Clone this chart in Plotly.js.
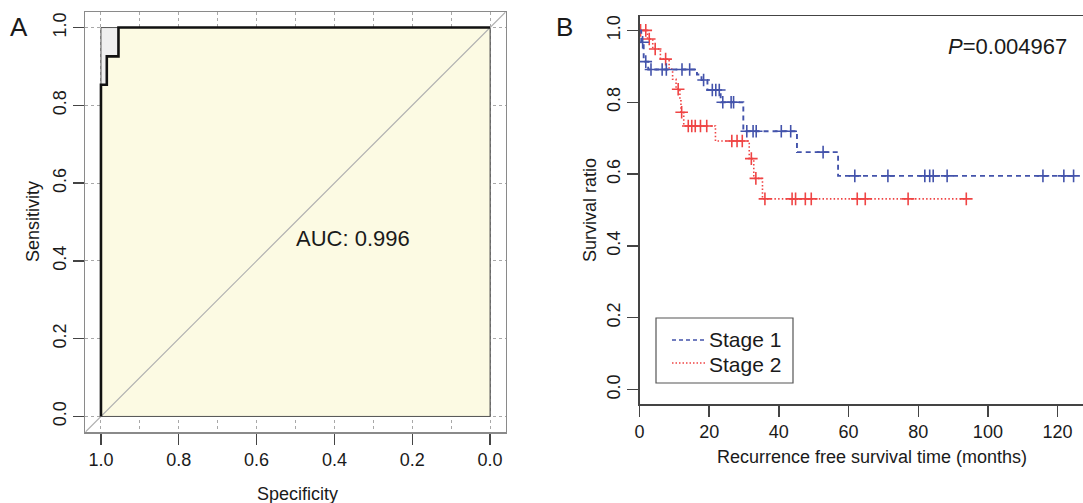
<!DOCTYPE html>
<html>
<head>
<meta charset="utf-8">
<script src="https://cdn.plot.ly/plotly-3.0.1.min.js"></script>
<style>html,body{margin:0;padding:0;background:#fff;}#chart{width:1083px;height:503px;}</style>
</head>
<body>
<div id="chart"></div>
<script>
// ---------- Panel A: ROC data ----------
const rocSpecificity = [1.0, 1.0, 0.985, 0.985, 0.955, 0.955, 0.0];
const rocSensitivity = [0.0, 0.853, 0.853, 0.926, 0.926, 1.0, 1.0];
const aucValue = 0.996;
const rocTickValues = [1.0, 0.8, 0.6, 0.4, 0.2, 0.0];

// ---------- Panel B: Kaplan-Meier data ----------
const stage1Time = [0, 0.5, 1.2, 2.5, 16.5, 17.8, 19.5, 23.3, 29.8, 45.2, 57.0];
const stage1Surv = [1.0, 0.967, 0.913, 0.891, 0.877, 0.862, 0.834, 0.800, 0.719, 0.661, 0.595];
const stage1Censor = [0.9, 1.8, 3.3, 6.5, 7.7, 12.2, 14.4, 18.4, 20.9, 21.9, 22.9, 23.9, 26.3, 27.0,
  30.8, 32.6, 33.5, 40.7, 43.4, 52.7, 61.8, 71.3, 81.9, 83.3, 84.3, 88.3, 115.8, 121.8, 124.6];

const stage2Time = [0, 2.3, 3.8, 6.0, 8.5, 9.5, 10.5, 11.6, 11.9, 12.7, 21.8, 31.5, 32.8, 35.3];
const stage2Surv = [1.0, 0.976, 0.948, 0.920, 0.892, 0.864, 0.836, 0.804, 0.772, 0.734, 0.692, 0.643, 0.588, 0.531];
const stage2Censor = [0.3, 1.8, 2.8, 4.5, 7.5, 11.1, 12.1, 14.0, 15.0, 16.0, 17.5, 19.3, 26.5, 28.0, 29.5,
  32.1, 33.4, 36.0, 43.8, 44.8, 47.6, 49.3, 62.5, 64.8, 77.1, 93.8];

const groupNames = ["Stage 1", "Stage 2"];
const pValue = 0.004967;
const survXTicks = [0, 20, 40, 60, 80, 100, 120];
const survYTicks = [0.0, 0.2, 0.4, 0.6, 0.8, 1.0];

// ---------- helpers ----------
function survAt(times, surv, t) {
  let s = surv[0];
  for (let i = 0; i < times.length; i++) { if (times[i] <= t) s = surv[i]; }
  return s;
}
function stepLine(times, surv, censor) {
  const last = Math.max(...censor, times[times.length - 1]);
  return { x: times.concat([last]), y: surv.concat([surv[surv.length - 1]]) };
}

const FONT = "Liberation Sans, Arial, Helvetica, sans-serif";
const TXT = "#1a1a1a";
const BLUE = "#4353ab";
const RED = "#ef4444";
const W = 1083, H = 503;
const px = v => v / W;
const py = v => 1 - v / H;

// Panel A axis range
const aRange = [1.04, -0.04];

const traces = [];
// grey full square (max AUC polygon)
traces.push({
  x: [1, 1, 0, 0, 1], y: [0, 1, 1, 0, 0],
  xaxis: "x", yaxis: "y", mode: "lines", fill: "toself",
  fillcolor: "#efefef", line: { color: "#555", width: 1 }, hoverinfo: "skip", showlegend: false
});
// yellow AUC polygon
traces.push({
  x: rocSpecificity.concat([0, 1]), y: rocSensitivity.concat([0, 0]),
  xaxis: "x", yaxis: "y", mode: "lines", fill: "toself",
  fillcolor: "#fcfae3", line: { color: "#555", width: 1 }, hoverinfo: "skip", showlegend: false
});
// identity diagonal across the plot region
traces.push({
  x: [aRange[0], aRange[1]], y: [1 - aRange[0], 1 - aRange[1]],
  xaxis: "x", yaxis: "y", mode: "lines",
  line: { color: "#b0b0b0", width: 1.2 }, hoverinfo: "skip", showlegend: false
});
// ROC curve
traces.push({
  x: rocSpecificity, y: rocSensitivity, xaxis: "x", yaxis: "y", mode: "lines",
  line: { color: "#111", width: 2.6 }, name: "ROC", showlegend: false
});

// KM curves
const s1 = stepLine(stage1Time, stage1Surv, stage1Censor);
const s2 = stepLine(stage2Time, stage2Surv, stage2Censor);
traces.push({
  x: s2.x, y: s2.y, xaxis: "x2", yaxis: "y2", mode: "lines", line: { shape: "hv", color: RED, width: 1.6, dash: "1.5px,2.2px" },
  name: groupNames[1], showlegend: false
});
traces.push({
  x: stage2Censor, y: stage2Censor.map(t => survAt(stage2Time, stage2Surv, t)), xaxis: "x2", yaxis: "y2",
  mode: "markers", marker: { symbol: "cross-thin", size: 9, line: { color: RED, width: 1.6 } },
  name: groupNames[1] + " censored", showlegend: false
});
traces.push({
  x: s1.x, y: s1.y, xaxis: "x2", yaxis: "y2", mode: "lines", line: { shape: "hv", color: BLUE, width: 1.9, dash: "5px,4px" },
  name: groupNames[0], showlegend: false
});
traces.push({
  x: stage1Censor, y: stage1Censor.map(t => survAt(stage1Time, stage1Surv, t)), xaxis: "x2", yaxis: "y2",
  mode: "markers", marker: { symbol: "cross-thin", size: 9, line: { color: BLUE, width: 1.6 } },
  name: groupNames[0] + " censored", showlegend: false
});

const tickFont = { family: FONT, size: 18, color: TXT };

const layout = {
  width: W, height: H, margin: { l: 0, r: 0, t: 0, b: 0 },
  paper_bgcolor: "#fff", plot_bgcolor: "#fff", showlegend: false,
  font: { family: FONT, color: TXT },
  xaxis: {
    domain: [px(85.4), px(505.6)], range: aRange, anchor: "y",
    tickmode: "array", tickvals: rocTickValues, ticktext: rocTickValues.map(v => v.toFixed(1)),
    ticks: "outside", ticklen: 11, tickwidth: 1.4, tickcolor: "#444", tickfont: tickFont,
    showline: true, linecolor: "#8a8a8a", linewidth: 1.5, mirror: true, zeroline: false,
    showgrid: true, gridcolor: "#a8a8a8", griddash: "dot", gridwidth: 1,
    minor: { tickmode: "linear", tick0: 0, dtick: 0.1, showgrid: true, gridcolor: "#a8a8a8", griddash: "dot", gridwidth: 1, ticks: "" }
  },
  yaxis: {
    domain: [py(432), py(12)], range: [-0.04, 1.04], anchor: "x",
    tickmode: "array", tickvals: rocTickValues, ticktext: rocTickValues.map(v => v.toFixed(1)),
    ticks: "outside", ticklen: 11, tickwidth: 1.4, tickcolor: "#444", tickfont: tickFont, tickangle: -90,
    showline: true, linecolor: "#8a8a8a", linewidth: 1.5, mirror: true, zeroline: false,
    showgrid: true, gridcolor: "#a8a8a8", griddash: "dot", gridwidth: 1
  },
  xaxis2: {
    domain: [px(639.5), 1], range: [0, 127.3], anchor: "y2",
    tickmode: "array", tickvals: survXTicks, ticktext: survXTicks.map(String),
    ticks: "outside", ticklen: 11, tickwidth: 1.4, tickcolor: "#444", tickfont: tickFont,
    showline: true, linecolor: "#444", linewidth: 1.5, mirror: true, zeroline: false, showgrid: false
  },
  yaxis2: {
    domain: [py(404), py(16)], range: [-0.04, 1.04], anchor: "x2",
    tickmode: "array", tickvals: survYTicks, ticktext: survYTicks.map(v => v.toFixed(1)),
    ticks: "outside", ticklen: 11, tickwidth: 1.4, tickcolor: "#444", tickfont: tickFont, tickangle: -90,
    showline: true, linecolor: "#444", linewidth: 1.5, mirror: false, zeroline: false, showgrid: false
  },
  shapes: [
    { type: "rect", xref: "paper", yref: "paper", x0: px(656), x1: px(793), y0: py(383), y1: py(318),
      line: { color: "#555", width: 1.2 }, fillcolor: "#fff", layer: "above" },
    { type: "line", xref: "paper", yref: "paper", x0: px(672), x1: px(706), y0: py(340), y1: py(340),
      line: { color: BLUE, width: 1.6, dash: "4px,3px" }, layer: "above" },
    { type: "line", xref: "paper", yref: "paper", x0: px(672), x1: px(706), y0: py(363), y1: py(363),
      line: { color: RED, width: 1.4, dash: "1.5px,2px" }, layer: "above" }
  ],
  annotations: [
    { text: "A", xref: "paper", yref: "paper", x: px(19), y: py(27), xanchor: "center", yanchor: "middle",
      showarrow: false, font: { family: FONT, size: 26, color: TXT } },
    { text: "B", xref: "paper", yref: "paper", x: px(564), y: py(27), xanchor: "center", yanchor: "middle",
      showarrow: false, font: { family: FONT, size: 26, color: TXT } },
    { text: "AUC: " + aucValue.toFixed(3), xref: "x", yref: "y", x: 0.505, y: 0.458, xanchor: "left", yanchor: "middle",
      showarrow: false, font: { family: FONT, size: 22, color: TXT } },
    { text: "Specificity", xref: "paper", yref: "paper", x: px(297), y: py(494), xanchor: "center", yanchor: "middle",
      showarrow: false, font: { family: FONT, size: 18, color: TXT } },
    { text: "Sensitivity", xref: "paper", yref: "paper", x: px(33), y: py(222), xanchor: "center", yanchor: "middle",
      textangle: -90, showarrow: false, font: { family: FONT, size: 18, color: TXT } },
    { text: "<i>P</i>=" + pValue, xref: "paper", yref: "paper", x: px(946), y: py(47), xanchor: "left", yanchor: "middle",
      showarrow: false, font: { family: FONT, size: 22, color: TXT } },
    { text: "Survival ratio", xref: "paper", yref: "paper", x: px(590), y: py(210), xanchor: "center", yanchor: "middle",
      textangle: -90, showarrow: false, font: { family: FONT, size: 18, color: TXT } },
    { text: "Recurrence free survival time (months)", xref: "paper", yref: "paper", x: px(872), y: py(457),
      xanchor: "center", yanchor: "middle", showarrow: false, font: { family: FONT, size: 18, color: TXT } },
    { text: groupNames[0], xref: "paper", yref: "paper", x: px(708), y: py(339.5), xanchor: "left", yanchor: "middle",
      borderpad: 0, showarrow: false, font: { family: FONT, size: 21, color: TXT } },
    { text: groupNames[1], xref: "paper", yref: "paper", x: px(708), y: py(364), xanchor: "left", yanchor: "middle",
      borderpad: 0, showarrow: false, font: { family: FONT, size: 21, color: TXT } }
  ]
};

Plotly.newPlot("chart", traces, layout, { staticPlot: true, displayModeBar: false });
</script>
</body>
</html>
